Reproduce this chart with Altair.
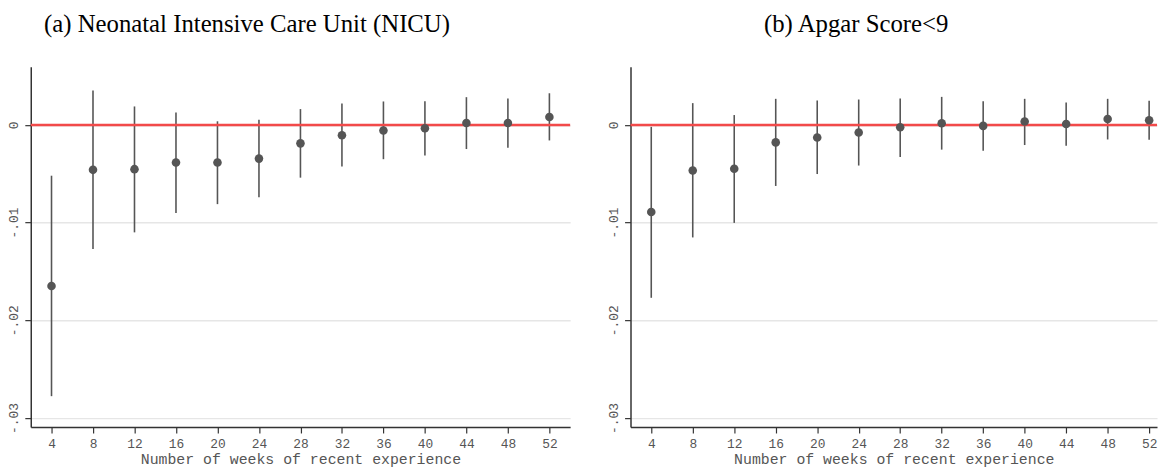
import altair as alt
import pandas as pd

weeks = [4, 8, 12, 16, 20, 24, 28, 32, 36, 40, 44, 48, 52]

nicu_est = [-0.0165, -0.0046, -0.00453, -0.00385, -0.00385, -0.00345, -0.00189,
            -0.00105, -0.00057, -0.00034, 0.0002, 0.0002, 0.00081]
nicu_lo = [-0.02777, -0.0127, -0.0110, -0.00902, -0.00811, -0.0074, -0.0054,
           -0.00426, -0.00351, -0.00314, -0.00247, -0.00233, -0.00159]
nicu_hi = [-0.0052, 0.00351, 0.00189, 0.00128, 0.00037, 0.00054, 0.00162,
           0.0022, 0.0024, 0.00243, 0.00284, 0.0027, 0.00324]

apgar_est = [-0.00892, -0.00466, -0.00449, -0.00179, -0.00128, -0.00078, -0.00024,
             0.00017, -0.0001, 0.00034, 0.0001, 0.00061, 0.00047]
apgar_lo = [-0.0177, -0.01152, -0.01003, -0.00625, -0.00503, -0.00416, -0.00328,
            -0.00253, -0.00264, -0.00206, -0.00213, -0.00149, -0.00152]
apgar_hi = [-0.0002, 0.00223, 0.00101, 0.00267, 0.0025, 0.0026, 0.0027,
            0.00287, 0.00243, 0.00267, 0.0023, 0.00267, 0.00247]

titles = ["(a) Neonatal Intensive Care Unit (NICU)", "(b) Apgar Score<9"]
y_ticks = [0, -0.01, -0.02, -0.03]
x_title = "Number of weeks of recent experience"

Y_DOMAIN = [-0.03093, 0.00595]
H = 364
MONO = "Liberation Mono"
GRAY = "#555555"

LABEL_EXPR = (
    "datum.value == 0 ? '0' : "
    "replace(replace(format(datum.value, '.2f'), '\u22120.', '-.'), '-0.', '-.')"
)


def panel(est, lo, hi, title, width, xdomain, dx):
    df = pd.DataFrame({"w": weeks, "est": est, "lo": lo, "hi": hi})
    xenc = alt.X(
        "w:Q",
        scale=alt.Scale(domain=xdomain, nice=False, zero=False),
        axis=alt.Axis(
            values=weeks, title=x_title, grid=False, tickSize=6,
            labelFont=MONO, labelFontSize=13, labelColor=GRAY, labelPadding=5,
            titleFont=MONO, titleFontSize=15, titleFontWeight="normal",
            titleColor=GRAY, titlePadding=1,
            domainColor="#333333", domainWidth=1.5, tickColor="#333333", tickWidth=1.2,
        ),
    )
    yenc_axis = alt.Axis(
        values=y_ticks, title=None, grid=True, gridColor="#e6e6e6", gridWidth=1.5,
        tickSize=6, labelAngle=270, labelAlign="center", labelBaseline="bottom",
        labelFont=MONO, labelFontSize=13, labelColor=GRAY, labelPadding=4,
        labelExpr=LABEL_EXPR,
        domainColor="#333333", domainWidth=1.5, tickColor="#333333", tickWidth=1.2,
    )
    yscale = alt.Scale(domain=Y_DOMAIN, nice=False, zero=False)
    base = alt.Chart(df)
    bars = base.mark_rule(color=GRAY, strokeWidth=1.6).encode(
        x=xenc,
        y=alt.Y("lo:Q", scale=yscale, axis=yenc_axis),
        y2="hi:Q",
    )
    zero = alt.Chart(pd.DataFrame({"z": [0]})).mark_rule(
        color="#f24a4a", strokeWidth=2.5
    ).encode(y=alt.Y("z:Q", scale=yscale))
    pts = base.mark_point(filled=True, color=GRAY, size=75, opacity=1).encode(
        x="w:Q", y=alt.Y("est:Q", scale=yscale)
    )
    return alt.layer(bars, zero, pts).properties(
        width=width, height=H,
        title=alt.TitleParams(
            title, font="Liberation Serif", fontSize=25, fontWeight="normal",
            color="black", anchor="middle", dx=dx, offset=30,
        ),
    )


left = panel(nicu_est, nicu_lo, nicu_hi, titles[0], 545, [2, 54], -54)
right = panel(apgar_est, apgar_lo, apgar_hi, titles[1], 532, [2, 52.76], -38)

chart = alt.hconcat(left, right, spacing=36).configure_view(stroke=None).properties(
    padding={"left": 0, "top": 2, "right": 0, "bottom": 0}
)

chart.save("out.html", embed_options={"renderer": "svg", "actions": False})
